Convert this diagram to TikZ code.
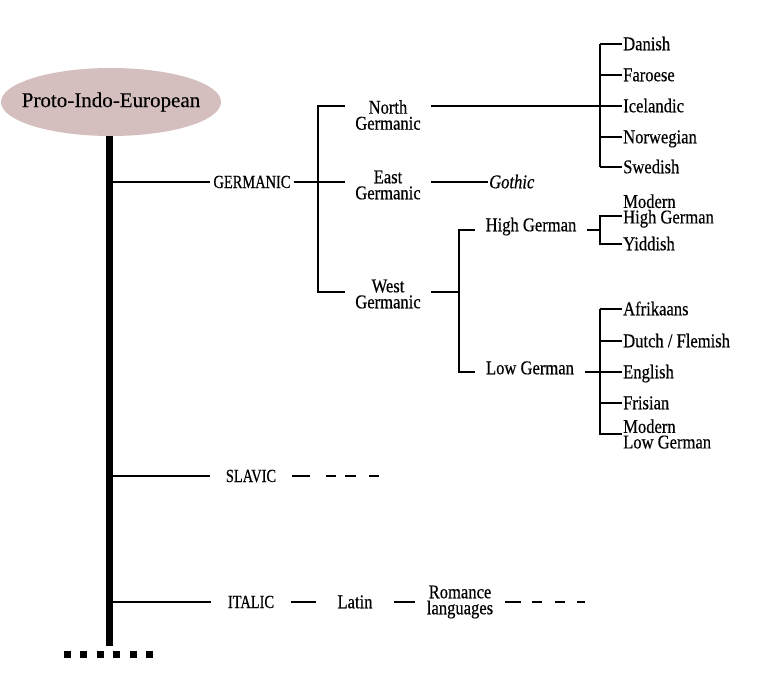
\documentclass[tikz,border=0pt]{standalone}
\usepackage{fontspec}
\setmainfont[FakeStretch=0.85,FakeBold=0.5]{Liberation Serif}
\newfontfamily\rootfont[FakeBold=0.3]{Liberation Serif}
\newfontfamily\capsfont[FakeStretch=0.78,FakeBold=0.5]{Liberation Serif}
\usetikzlibrary{positioning,shapes.geometric}
\definecolor{rootpink}{RGB}{212,190,190}
\tikzset{
  link/.style = {line width=1.6pt},
  lang/.style = {inner sep=1pt, font=\fontsize{19.5}{16}\selectfont, align=center},
  leaf/.style = {lang, anchor=west, text height=12.5pt, text depth=0pt},
  subleaf/.style = {lang, anchor=west, align=left, font=\fontsize{19.5}{15.5}\selectfont},
  branch/.style = {lang, inner xsep=10.5pt},
  family/.style = {inner ysep=1pt, inner xsep=3pt, font=\capsfont\fontsize{18.5}{14}\selectfont, text height=12pt, text depth=0pt},
}

\begin{document}
\begin{tikzpicture}[x=1pt,y=-1pt]
\useasboundingbox (0,0) rectangle (766,681);

\node[ellipse, fill=rootpink, minimum width=220pt, minimum height=68pt, inner sep=0pt,
      font=\rootfont\fontsize{21}{21}\selectfont] (pie) at (111,102) {\makebox[0pt]{Proto-Indo-European}};
\coordinate (trunkend) at (109,646);
\draw[line width=7pt] (pie.south -| trunkend) -- (trunkend);
\draw[line width=7pt, dash pattern=on 7pt off 9.4pt] (64,654) -- (153,654);

\coordinate (tg) at (109,182);
\coordinate (ts) at (109,476);
\coordinate (ti) at (109,602);
\node[family] (germanic) at (252,182) {GERMANIC};
\node[family, inner xsep=16pt] (slavic) at (251,476) {SLAVIC};
\node[family, inner xsep=17pt] (italic) at (251,602) {ITALIC};
\draw[link] (tg) -- (germanic);
\draw[link] (ts) -- (slavic);
\draw[link] (ti) -- (italic);

% germanic
\node[branch] (northg) at (388,115) {North\\Germanic};
\node[branch] (eastg) at (388,185) {East\\Germanic};
\node[branch] (westg) at (388,294) {West\\Germanic};
\coordinate (gn) at (318,106);
\coordinate (gw) at (318,292);
\draw[link] (germanic) -- (germanic -| eastg.west);
\draw[link] (gn -| northg.west) -- (gn) -- (gw) -- (gw -| westg.west);

% north
\coordinate (nj) at (600,106);
\draw[link] (gn -| northg.east) -- (nj);
\foreach \name/\y/\txt in {danish/44/Danish, faroese/75/Faroese, icelandic/106/Icelandic,
                           norwegian/137/Norwegian, swedish/167/Swedish}{
    \node[leaf] (\name) at (622,\y) {\txt};
    \draw[link] (nj |- \name) -- (\name);
}
\draw[link] (nj |- danish) -- (nj |- swedish);

% east
\node[leaf, font=\fontsize{19.5}{14}\selectfont\itshape] (gothic) at (488,182) {Gothic};
\draw[link] (eastg.east |- gothic) -- (gothic);

% west
\coordinate (wj) at (459,292);
\draw[link] (gw -| westg.east) -- (wj);
\node[branch, text height=12.5pt, text depth=0pt] (highg) at (531,225) {High German};
\node[branch, text height=12.5pt, text depth=0pt] (lowg) at (530,368) {Low German};
\coordinate (wh) at (459,230);
\coordinate (wl) at (459,372);
\draw[link] (wh -| highg.west) -- (wh) -- (wl) -- (wl -| lowg.west);

% high german
\coordinate (hj) at (600,230);
\draw[link] (wh -| highg.east) -- (hj);
\node[subleaf] (mhg) at (622,211) {Modern\\High German};
\node[leaf] (yiddish) at (622,244) {Yiddish};
\coordinate (hm) at (600,216);
\draw[link] (hm -| mhg.west) -- (hm) -- (hj |- yiddish) -- (yiddish);

% low german
\coordinate (lj) at (600,372);
\draw[link] (wl -| lowg.east) -- (lj);
\foreach \name/\y/\txt in {afrikaans/309/Afrikaans, dutch/341/{Dutch / Flemish},
                           english/372/English, frisian/403/Frisian}{
    \node[leaf] (\name) at (622,\y) {\txt};
    \draw[link] (lj |- \name) -- (\name);
}
\node[subleaf] (mlg) at (622,434) {Modern\\Low German};
\draw[link] (lj |- afrikaans) -- (lj |- mlg) -- (mlg);

% slavic
\coordinate (slavicend) at (381,476);
\draw[link, dash pattern=on 18pt off 16pt on 10pt off 9pt on 11pt off 13pt on 10pt off 10pt]
    (slavic) -- (slavicend);

% italic
\node[branch, inner xsep=21pt, text height=12.5pt, text depth=0pt] (latin) at (355,602) {Latin};
\node[branch, inner xsep=12pt] (romance) at (460,602) {Romance\\languages};
\coordinate (romanceend) at (585,602);
\draw[link] (italic) -- (latin);
\draw[link] (latin) -- (romance);
\draw[link, dash pattern=on 16pt off 11pt on 10pt off 13pt on 10pt off 12pt on 8pt off 10pt]
    (romance) -- (romanceend);
\end{tikzpicture}
\end{document}
